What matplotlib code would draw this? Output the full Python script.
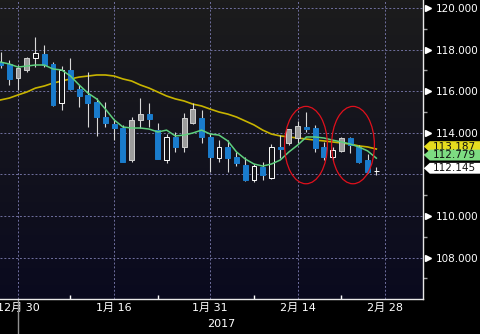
import numpy as np
import matplotlib
matplotlib.use("Agg")
import matplotlib.pyplot as plt
from matplotlib.patches import Rectangle, Ellipse, Polygon
import matplotlib.transforms as mtransforms

plt.rcParams['font.family'] = ['DejaVu Sans', 'Noto Sans CJK JP']

# USDJPY daily candles, Dec 28 2016 - Feb 27 2017 (weekdays)
opens = [117.40, 117.31, 116.63, 117.02, 117.60, 117.79, 117.31, 115.43, 117.02, 116.11,
         115.82, 115.48, 114.76, 114.42, 114.23, 112.69, 114.62, 114.90, 114.13, 112.69,
         113.80, 113.32, 114.47, 114.71, 113.80, 112.79, 113.32, 112.84, 112.45, 111.73,
         112.36, 111.83, 113.32, 113.51, 113.75, 114.28, 114.23, 113.32, 112.84, 113.13,
         113.75, 113.32, 112.69, 112.17]
highs = [117.88, 117.50, 117.26, 117.64, 118.61, 118.22, 117.40, 117.21, 117.60, 116.30,
         116.92, 115.67, 115.48, 114.62, 114.38, 114.76, 115.67, 115.43, 114.47, 113.94,
         114.04, 114.95, 115.43, 115.10, 113.99, 113.65, 113.65, 113.08, 112.84, 112.50,
         112.60, 113.46, 113.89, 114.18, 114.57, 115.00, 114.38, 113.56, 113.32, 113.80,
         113.80, 113.41, 112.98, 112.36]
lows = [117.12, 116.30, 116.06, 116.92, 117.16, 117.16, 115.29, 115.10, 116.06, 115.24,
        114.28, 113.85, 114.28, 113.65, 112.60, 112.60, 114.23, 114.28, 112.74, 112.55,
        113.08, 113.08, 114.42, 113.51, 112.12, 112.60, 112.12, 112.40, 111.68, 111.63,
        111.73, 111.78, 112.79, 113.41, 113.51, 114.04, 113.08, 112.69, 112.69, 113.08,
        113.03, 112.55, 112.07, 111.97]
closes = [117.26, 116.59, 117.12, 117.60, 117.84, 117.26, 115.34, 117.02, 116.11, 115.77,
          115.43, 114.76, 114.47, 114.23, 112.60, 114.62, 114.90, 114.66, 112.74, 113.80,
          113.32, 114.71, 115.14, 113.80, 112.84, 113.32, 112.79, 112.55, 111.73, 112.40,
          111.97, 113.32, 113.22, 114.18, 114.33, 114.18, 113.27, 112.84, 113.17, 113.75,
          113.41, 112.60, 112.12, 112.145]
# b = blue (down), w = hollow (up), g = grey
kinds = list("bbggwbbwbbbbbbbggbbwbggbbwbbbwbwbggbbbwgbbbw")

ma_short = [117.40, 117.31, 117.16, 117.21, 117.26, 117.26, 117.07, 117.02, 116.73, 116.30,
            115.91, 115.63, 115.14, 114.62, 114.28, 114.23, 114.23, 114.18, 114.04, 114.13,
            113.85, 113.89, 113.99, 114.13, 113.94, 113.89, 113.61, 113.08, 112.74, 112.50,
            112.40, 112.50, 112.69, 113.08, 113.41, 113.80, 113.80, 113.75, 113.65, 113.56,
            113.46, 113.32, 113.13, 112.78]
ma_long = [115.58, 115.67, 115.82, 115.96, 116.15, 116.25, 116.39, 116.49, 116.59, 116.68,
           116.73, 116.78, 116.78, 116.73, 116.59, 116.49, 116.30, 116.15, 115.96, 115.77,
           115.63, 115.53, 115.38, 115.29, 115.14, 115.00, 114.90, 114.76, 114.57, 114.38,
           114.13, 113.94, 113.85, 113.80, 113.75, 113.70, 113.65, 113.61, 113.56, 113.51,
           113.46, 113.37, 113.32, 113.22]

tick_pos = [2, 13, 24, 34, 44]
tick_labels = ['12月 30', '1月 16', '1月 31', '2月 14', '2月 28']
minor_pos = [8, 18, 29, 39]
y_ticks = [108, 110, 112, 114, 116, 118, 120]
last_labels = [(113.187, '#e6dc1e'), (112.779, '#7ddc82'), (112.145, '#ffffff')]

fig = plt.figure(figsize=(4.8, 3.34), dpi=100)
fig.patch.set_facecolor('black')
ax = fig.add_axes([0, 1 - 299 / 334, 423 / 480, 299 / 334])
x0, x1 = -0.06, 48.34
y0, y1 = 106.01, 120.385
ax.set_xlim(x0, x1)
ax.set_ylim(y0, y1)

# dark gradient background
top = np.array([0.11, 0.11, 0.11])
bot = np.array([0.04, 0.04, 0.12])
t = np.linspace(0, 1, 200)[:, None]
grad = (top * (1 - t) + bot * t)[:, None, :]
ax.imshow(grad, extent=[x0, x1, y0, y1], aspect='auto', zorder=0)

# grid
for yt in y_ticks:
    ax.axhline(yt, color='#7070a0', lw=0.7, ls=(0, (2, 2)), zorder=1)
for xt in tick_pos:
    ax.axvline(xt, color='#7070a0', lw=0.7, ls=(0, (2, 2)), zorder=1)

# moving averages
idx = np.arange(len(closes))
ax.plot(idx, ma_long, color='#c8b400', lw=1.2, zorder=2)
ax.plot(idx, ma_short, color='#5fd07e', lw=1.1, zorder=4)

# candles
w = 0.56
for i in idx:
    ax.vlines(i, lows[i], highs[i], color='#d8d8d8', lw=0.8, zorder=3)
    lo, hi = min(opens[i], closes[i]), max(opens[i], closes[i])
    h = max(hi - lo, 0.01)
    if kinds[i] == 'b':
        fc, ec = '#1a7ccc', '#1a7ccc'
    elif kinds[i] == 'g':
        fc, ec = '#9c9c9c', '#cfcfcf'
    else:
        fc, ec = '#141418', '#ffffff'
    ax.add_patch(Rectangle((i - w / 2, lo), w, h, fc=fc, ec=ec, lw=0.7, zorder=3))

# red circles
for cx in [34.95, 40.33]:
    ax.add_patch(Ellipse((cx, 113.41), 4.9, 3.72, fill=False, ec='#e0101c', lw=0.9, zorder=5))

# axes styling
for s in ['top', 'left']:
    ax.spines[s].set_visible(False)
ax.spines['bottom'].set_color('#e8e8e8')
ax.spines['right'].set_color('#e8e8e8')
ax.spines['bottom'].set_linewidth(1)
ax.spines['right'].set_linewidth(1)

ax.set_xticks(tick_pos)
ax.set_xticklabels(tick_labels)
ax.set_xticks(minor_pos, minor=True)
ax.tick_params(axis='x', which='major', length=0, pad=3, colors='white', labelsize=8)
ax.tick_params(axis='x', which='minor', length=3, direction='in', color='white', width=1)

# 112 is hidden behind the last-value boxes
shown_ticks = [v for v in y_ticks if v != 112]
ax.yaxis.tick_right()
ax.set_yticks(shown_ticks)
ax.set_yticklabels([f'{v:.3f}' for v in shown_ticks])
ax.set_yticks(np.arange(107, 121, 2), minor=True)
ax.tick_params(axis='y', which='major', length=0, pad=9, colors='white', labelsize=7.5)
ax.tick_params(axis='y', which='minor', length=3, direction='out', color='#a0a0a0', width=1)

# arrow markers at y ticks
tr = mtransforms.blended_transform_factory(ax.transAxes, ax.transData)
ax.plot([1.012] * len(shown_ticks), shown_ticks, marker='>', ms=4, color='white', ls='none',
        transform=tr, clip_on=False)

# last-value labels (each box drawn over the previous one)
for k, (val, col) in enumerate(last_labels):
    yc = val + 0.15
    hh = 0.26
    poly = Polygon([(1.002, yc), (1.016, yc + hh), (1.14, yc + hh), (1.14, yc - hh), (1.016, yc - hh)],
                   closed=True, fc=col, ec='none', transform=tr, clip_on=False, zorder=10 + 2 * k)
    ax.add_patch(poly)
    ax.text(1.024, yc, f'{val:.3f}', color='#101010', fontsize=7.5, va='center', ha='left',
            transform=tr, clip_on=False, zorder=11 + 2 * k)

# year label and separator
bx = mtransforms.blended_transform_factory(ax.transData, ax.transAxes)
ax.text(25.2, -0.082, '2017', transform=bx, color='white', fontsize=8,
        ha='center', va='center', clip_on=False)
ax.plot([2, 2], [0, -0.13], color='#909090', lw=1, transform=bx, clip_on=False)

fig.savefig('out.png', dpi=100, facecolor='black')
